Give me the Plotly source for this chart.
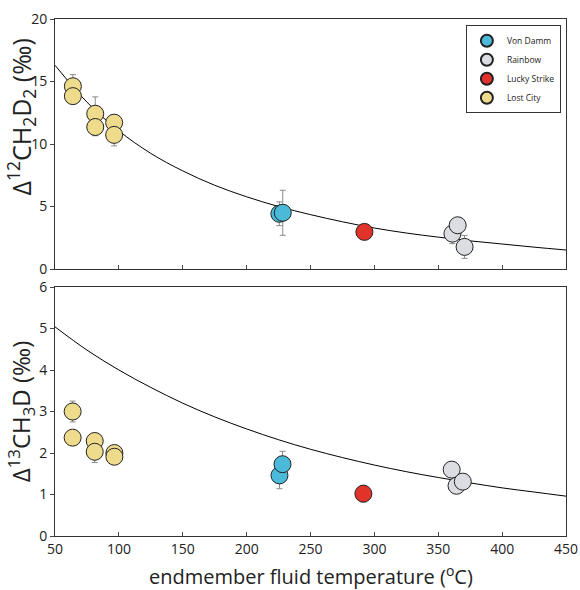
import plotly.graph_objects as go

# ---- data ----
sites = ["Von Damm", "Rainbow", "Lucky Strike", "Lost City"]
site_colors = {"Von Damm": "#4bb9d8", "Rainbow": "#dcdde2", "Lucky Strike": "#e1332a", "Lost City": "#eedb8c"}

# top panel: Δ12CH2D2
d2_temp = {
    "Lost City": [64.0, 64.0, 81.5, 81.5, 96.3, 96.3],
    "Von Damm": [225.6, 228.3],
    "Lucky Strike": [292.2],
    "Rainbow": [361.1, 365.2, 370.6],
}
d2_val = {
    "Lost City": [14.62, 13.83, 12.42, 11.36, 11.71, 10.73],
    "Von Damm": [4.42, 4.50],
    "Lucky Strike": [2.97],
    "Rainbow": [2.83, 3.50, 1.77],
}
d2_err = {
    "Lost City": [0.93, 0.3, 1.35, 0.7, 0.5, 0.88],
    "Von Damm": [0.95, 1.8],
    "Lucky Strike": [0.3],
    "Rainbow": [0.8, 0.3, 0.92],
}

# bottom panel: Δ13CH3D
d13_temp = {
    "Lost City": [63.8, 63.8, 81.1, 81.1, 96.5, 96.5],
    "Von Damm": [225.7, 228.1],
    "Lucky Strike": [291.4],
    "Rainbow": [360.5, 364.3, 369.2],
}
d13_val = {
    "Lost City": [3.00, 2.37, 2.29, 2.03, 2.00, 1.91],
    "Von Damm": [1.46, 1.73],
    "Lucky Strike": [1.02],
    "Rainbow": [1.60, 1.21, 1.31],
}
d13_err = {
    "Lost City": [0.25, 0.1, 0.1, 0.26, 0.1, 0.1],
    "Von Damm": [0.32, 0.31],
    "Lucky Strike": [0.2],
    "Rainbow": [0.1, 0.1, 0.1],
}

# equilibrium curves
curve_temp = [50, 75, 100, 125, 150, 175, 200, 225, 250, 275, 300, 325, 350, 375, 400, 425, 450]
curve_d2 = [16.3, 13.35, 11.05, 9.25, 7.85, 6.7, 5.78, 5.0, 4.35, 3.78, 3.28, 2.88, 2.55, 2.25, 2.0, 1.75, 1.52]
curve_d13 = [5.04, 4.48, 4.0, 3.58, 3.2, 2.87, 2.58, 2.32, 2.09, 1.89, 1.71, 1.55, 1.41, 1.28, 1.16, 1.06, 0.96]

x_ticks = [50, 100, 150, 200, 250, 300, 350, 400, 450]
title_top = "Δ<sup>12</sup>CH<sub>2</sub>D<sub>2</sub> (‰)"
title_bottom = "Δ<sup>13</sup>CH<sub>3</sub>D (‰)"
title_x = "endmember fluid temperature (<sup>o</sup>C)"

FONT = "Open Sans, Noto Sans, sans-serif"

fig = go.Figure()

fig.add_trace(go.Scatter(x=curve_temp, y=curve_d2, mode="lines", line=dict(color="black", width=1, shape="spline"),
                         showlegend=False, hoverinfo="skip", xaxis="x", yaxis="y"))
fig.add_trace(go.Scatter(x=curve_temp, y=curve_d13, mode="lines", line=dict(color="black", width=1, shape="spline"),
                         showlegend=False, hoverinfo="skip", xaxis="x2", yaxis="y2"))

draw_order = ["Lost City", "Lucky Strike", "Rainbow", "Von Damm"]
for s in draw_order:
    fig.add_trace(go.Scatter(
        x=d2_temp[s], y=d2_val[s], mode="markers", name=s, legendrank=sites.index(s) + 1,
        marker=dict(size=17, color=site_colors[s], line=dict(color="#222", width=1)),
        error_y=dict(type="data", array=d2_err[s], color="#8a8a8a", thickness=1, width=3),
        xaxis="x", yaxis="y", showlegend=True))
    fig.add_trace(go.Scatter(
        x=d13_temp[s], y=d13_val[s], mode="markers", name=s,
        marker=dict(size=17, color=site_colors[s], line=dict(color="#222", width=1)),
        error_y=dict(type="data", array=d13_err[s], color="#8a8a8a", thickness=1, width=3),
        xaxis="x2", yaxis="y2", showlegend=False))

axis_common = dict(showline=True, linecolor="#333", linewidth=1, mirror=True, showgrid=False, zeroline=False,
                   automargin=False, tickfont=dict(family=FONT, size=14, color="#222"))

fig.update_layout(
    width=580, height=590,
    margin=dict(l=55, r=14, t=19, b=54),
    plot_bgcolor="white", paper_bgcolor="white",
    font=dict(family=FONT, color="#222"),
    xaxis=dict(range=[50, 450], tickvals=x_ticks, showticklabels=False, ticks="inside", ticklen=4,
               anchor="y", **axis_common),
    yaxis=dict(range=[0, 20], tickvals=[0, 5, 10, 15, 20], ticks="outside", ticklen=4,
               domain=[0.5164, 1], anchor="x", **axis_common),
    xaxis2=dict(range=[50, 450], tickvals=x_ticks, ticks="inside", ticklen=4, anchor="y2", **axis_common),
    yaxis2=dict(range=[0, 6], tickvals=[0, 1, 2, 3, 4, 5, 6], ticks="outside", ticklen=4,
                domain=[0, 0.4816], anchor="x2", **axis_common),
    legend=dict(x=0.99, y=0.988, xanchor="right", yanchor="top", bgcolor="white", bordercolor="#333", borderwidth=1,
                font=dict(family=FONT, size=8.5), itemsizing="constant", itemwidth=30, tracegroupgap=0),
    annotations=[
        dict(text=title_top, xref="paper", yref="paper", x=-0.066, y=0.81, textangle=-90,
             xanchor="center", yanchor="middle", showarrow=False, font=dict(family=FONT, size=25, color="#222")),
        dict(text=title_bottom, xref="paper", yref="paper", x=-0.066, y=0.24, textangle=-90,
             xanchor="center", yanchor="middle", showarrow=False, font=dict(family=FONT, size=24, color="#222")),
        dict(text=title_x, xref="paper", yref="paper", x=0.5, y=-0.076, xanchor="center", yanchor="middle",
             showarrow=False, font=dict(family=FONT, size=20, color="#222")),
    ],
)

fig.write_html("out.html", config={"displayModeBar": False},
               post_script="document.body.style.margin='0px';")
